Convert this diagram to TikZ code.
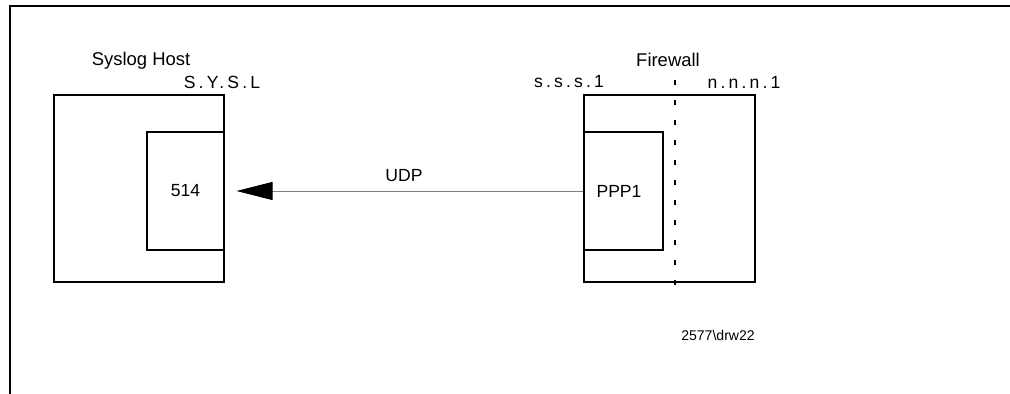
\documentclass[tikz,border=0pt]{standalone}
\usepackage{fontspec}
\setmainfont{Liberation Sans}
\newfontfamily\spacedfont[LetterSpace=18]{Liberation Sans}
\usepackage{tikz}
\usetikzlibrary{arrows.meta, positioning}
\tikzset{
  hostbox/.style={rectangle, draw=black, line width=0.7pt, minimum width=3.4cm,
    minimum height=3.74cm, inner sep=0pt},
  portbox/.style={rectangle, draw=black, line width=0.6pt, minimum height=2.36cm,
    inner sep=0pt, font=\fontsize{10}{12}\selectfont},
  title/.style={font=\fontsize{10.5}{12}\selectfont, inner sep=1pt},
  addr/.style={font=\fontsize{10}{12}\spacedfont, inner sep=1pt},
  arrow/.style={-{Triangle[length=0.72cm, width=0.36cm, color=black, fill=black]},
    draw=gray, line width=0.5pt},
  border/.style={line width=0.75pt}
}
\begin{document}
\begin{tikzpicture}[x=0.02cm, y=-0.02cm]
\useasboundingbox (0,0) rectangle (1010,394);
\draw [border] (10,394) -- (10,6) -- (1010,6);

\node (sysbox)  [hostbox]                          at (139,188.5) {};
\node (port)    [portbox, minimum width=1.54cm]    at (185.5,191) {514};
\node (fwbox)   [hostbox, minimum width=3.42cm]    at (669.5,188.5) {};
\node (ppp)     [portbox, minimum width=1.58cm]    at (623.5,191) {};
\node (ppptext) [font=\fontsize{10}{12}\selectfont] at (619,191) {PPP1};

\node (syshead) [title] at (141,61)  {Syslog Host};
\node (sysaddr) [addr]  at (222,82)  {S.Y.S.L};
\node (fwhead)  [title] at (668,60)  {Firewall};
\node (inaddr)  [addr]  at (569,82)  {s.s.s.1};
\node (outaddr) [addr]  at (744,82)  {n.n.n.1};
\node (figid)   [font=\fontsize{8}{10}\selectfont] at (718,335) {2577\textbackslash drw22};

\coordinate (cuttop) at (675,80);
\coordinate (cutbot) at (675,298);
\draw [dash pattern=on 0.1cm off 0.3cm, line width=0.6pt] (cuttop) -- (cutbot);

\draw [arrow, shorten >=0.24cm] (ppp.west) -- node[above=2pt, font=\fontsize{10}{12}\selectfont]{UDP} (port.east);
\end{tikzpicture}
\end{document}
